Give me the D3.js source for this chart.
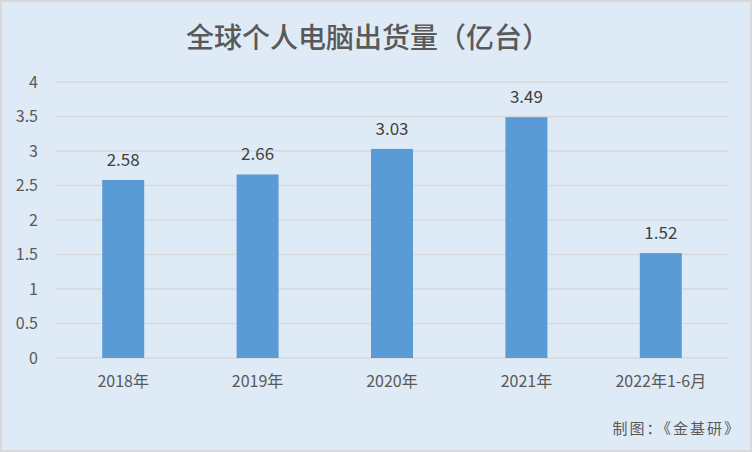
<!DOCTYPE html>
<html>
<head>
<meta charset="utf-8">
<script src="https://cdn.jsdelivr.net/npm/d3@7"></script>
<style>
  body { margin: 0; background: #fff; }
  svg text { font-family: "Noto Sans CJK SC", "Noto Sans", sans-serif; }
</style>
</head>
<body>
<div id="chart-area"><svg></svg></div>
<script>
const categories = ["2018年", "2019年", "2020年", "2021年", "2022年1-6月"];
const shipments = [2.58, 2.66, 3.03, 3.49, 1.52];
const yTicks = [0, 0.5, 1, 1.5, 2, 2.5, 3, 3.5, 4];

const chartSize = { width: 752, height: 452 };
const margin = { left: 56, right: 24, top: 82, bottom: 94 };
const width = chartSize.width - margin.left - margin.right;
const height = chartSize.height - margin.top - margin.bottom;

const svg = d3
  .select("#chart-area svg")
  .attr("width", chartSize.width)
  .attr("height", chartSize.height);

svg.append("rect")
  .attr("x", 1).attr("y", 1)
  .attr("width", chartSize.width - 2)
  .attr("height", chartSize.height - 2)
  .attr("fill", "#deebf7")
  .attr("stroke", "#d9d9d9")
  .attr("stroke-width", 2);

svg.append("text")
  .attr("x", chartSize.width / 2 - 8)
  .attr("y", 48)
  .attr("text-anchor", "middle")
  .attr("font-size", 28)
  .attr("font-weight", 500)
  .attr("fill", "#595959")
  .text("全球个人电脑出货量（亿台）");

const g = svg.append("g")
  .attr("transform", `translate(${margin.left},${margin.top})`);

const x = d3.scaleBand()
  .domain(categories)
  .range([0, width])
  .paddingInner(0.6875)
  .paddingOuter(0.34375);

const y = d3.scaleLinear().domain([0, 4]).range([height, 0]);

// gridlines
g.append("g")
  .selectAll("line")
  .data(yTicks)
  .join("line")
  .attr("x1", 0)
  .attr("x2", width)
  .attr("y1", d => y(d))
  .attr("y2", d => y(d))
  .attr("stroke", "#d9d9d9")
  .attr("stroke-width", 1.5);

const yAxis = d3.axisLeft(y).tickValues(yTicks).tickSize(0).tickPadding(18).tickFormat(d3.format("~g"));
g.append("g").call(yAxis)
  .call(a => a.select(".domain").remove())
  .selectAll("text")
  .attr("font-size", 16)
  .attr("fill", "#595959");

const xAxis = d3.axisBottom(x).tickSize(0).tickPadding(18);
g.append("g")
  .attr("transform", `translate(0,${height})`)
  .call(xAxis)
  .call(a => a.select(".domain").remove())
  .selectAll("text")
  .attr("font-size", 16)
  .attr("fill", "#595959");

g.selectAll(".bar")
  .data(shipments)
  .join("rect")
  .attr("class", "bar")
  .attr("x", (d, i) => x(categories[i]))
  .attr("width", x.bandwidth())
  .attr("y", d => y(d))
  .attr("height", d => height - y(d))
  .attr("fill", "#5b9bd5");

g.selectAll(".label")
  .data(shipments)
  .join("text")
  .attr("class", "label")
  .attr("x", (d, i) => x(categories[i]) + x.bandwidth() / 2)
  .attr("y", d => y(d) - 14)
  .attr("text-anchor", "middle")
  .attr("font-size", 17)
  .attr("fill", "#404040")
  .text(d => d.toFixed(2));

svg.append("text")
  .attr("x", 741)
  .attr("y", 434)
  .attr("text-anchor", "end")
  .attr("font-size", 15)
  .attr("letter-spacing", 2)
  .attr("fill", "#595959")
  .text("制图：《金基研》");
</script>
</body>
</html>
